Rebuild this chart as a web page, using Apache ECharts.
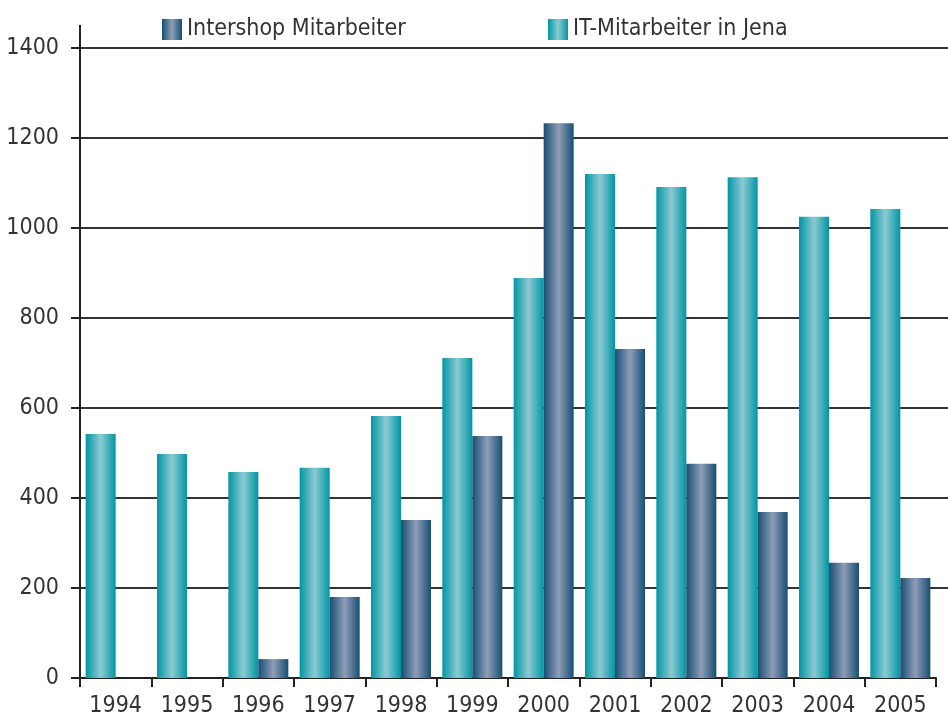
<!DOCTYPE html>
<html>
<head>
<meta charset="utf-8">
<script src="https://cdn.jsdelivr.net/npm/echarts@6/dist/echarts.min.js"></script>
<style>
html, body { margin: 0; padding: 0; background: #fff; }
#chart { width: 948px; height: 718px; }
</style>
</head>
<body>
<div id="chart"></div>
<script>
var years = ['1994', '1995', '1996', '1997', '1998', '1999', '2000', '2001', '2002', '2003', '2004', '2005'];
var jena = [542, 498, 458, 467, 582, 711, 889, 1120, 1091, 1113, 1025, 1042];
var intershop = [null, null, 42, 180, 351, 538, 1233, 731, 476, 369, 256, 222];
var yTicks = [0, 200, 400, 600, 800, 1000, 1200, 1400];

var font = "'Liberation Sans Narrow', 'DejaVu Sans Condensed', 'Roboto', sans-serif";

function grad(edge, mid) {
	return new echarts.graphic.LinearGradient(0, 0, 1, 0, [
		{ offset: 0, color: edge },
		{ offset: 0.5, color: mid },
		{ offset: 1, color: edge }
	]);
}
var tealFill = grad('#0096a4', '#8ccad2');
var blueFill = grad('#164f73', '#8f9db7');

var chart = echarts.init(document.getElementById('chart'));

var option = {
	animation: false,
	textStyle: { fontFamily: font },
	grid: { left: 80, right: 12, top: 48, bottom: 40 },
	legend: [{
		left: 157, top: 13,
		icon: 'rect',
		itemWidth: 20, itemHeight: 21, itemGap: 10,
		data: ['Intershop Mitarbeiter'],
		textStyle: { fontSize: 23, color: '#333', fontFamily: font }
	}, {
		left: 543, top: 13,
		icon: 'rect',
		itemWidth: 20, itemHeight: 21,
		data: ['IT-Mitarbeiter in Jena'],
		textStyle: { fontSize: 23, color: '#333', fontFamily: font }
	}],
	xAxis: {
		type: 'category',
		data: years,
		axisLine: { lineStyle: { color: '#222', width: 2 } },
		axisTick: { show: true, length: 9, lineStyle: { color: '#222', width: 2 } },
		axisLabel: { interval: 0, fontSize: 23, color: '#333', margin: 17, fontFamily: font }
	},
	yAxis: {
		type: 'value',
		min: yTicks[0],
		max: yTicks[yTicks.length - 1],
		interval: 200,
		axisLine: { show: true, lineStyle: { color: '#222', width: 2 } },
		axisTick: { show: true, length: 9, lineStyle: { color: '#222', width: 2 } },
		axisLabel: {
			fontSize: 23, color: '#333', margin: 21, fontFamily: font,
			formatter: function(v) { return String(v); }
		},
		splitLine: { lineStyle: { color: '#333', width: 2 } }
	},
	series: [{
		name: 'IT-Mitarbeiter in Jena',
		type: 'bar',
		data: jena,
		barWidth: 30,
		barGap: '0%',
		itemStyle: { color: tealFill }
	}, {
		name: 'Intershop Mitarbeiter',
		type: 'bar',
		data: intershop,
		barWidth: 30,
		barGap: '0%',
		itemStyle: { color: blueFill }
	}],
	graphic: [{
		type: 'line',
		shape: { x1: 80, y1: 25, x2: 80, y2: 48 },
		style: { stroke: '#222', lineWidth: 2 }
	}, {
		type: 'line',
		shape: { x1: 936, y1: 48, x2: 948, y2: 48 },
		style: { stroke: '#333', lineWidth: 2 }
	}]
};

// grid lines run past the last category to the right edge
for (var i = 1; i < yTicks.length - 1; i++) {
	option.graphic.push({
		type: 'line',
		shape: { x1: 936, y1: 678 - i * 90, x2: 948, y2: 678 - i * 90 },
		style: { stroke: '#333', lineWidth: 2 }
	});
}

chart.setOption(option);
</script>
</body>
</html>
